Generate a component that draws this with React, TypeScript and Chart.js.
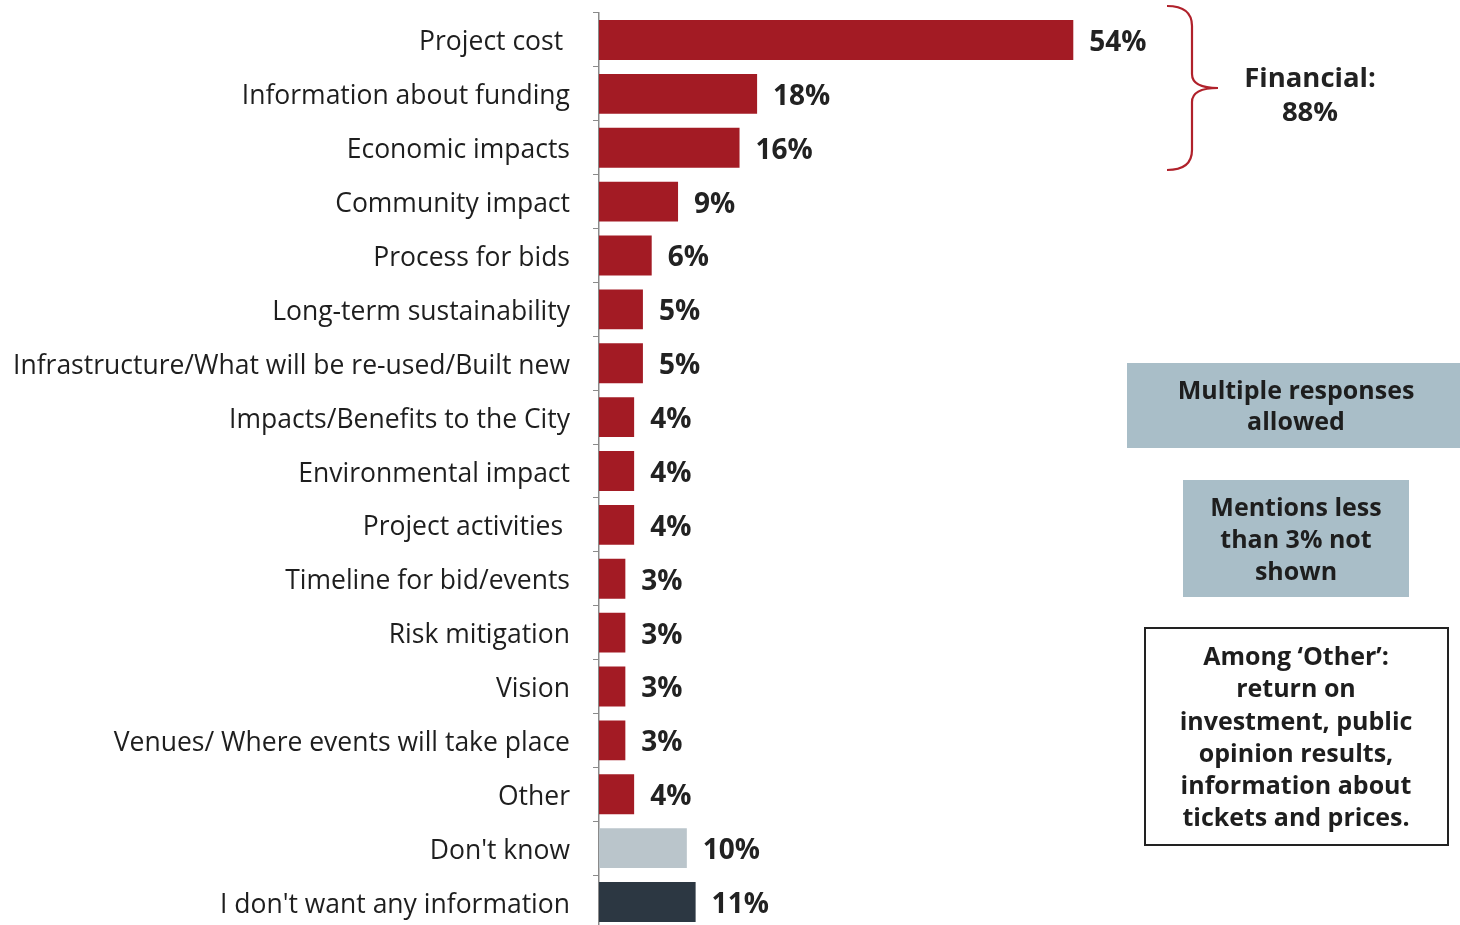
import React, { useEffect, useRef } from "react";
import { Chart, registerables } from "chart.js";

Chart.register(...registerables);

const categories: string[] = [
  "Project cost ",
  "Information about funding",
  "Economic impacts",
  "Community impact",
  "Process for bids",
  "Long-term sustainability",
  "Infrastructure/What will be re-used/Built new",
  "Impacts/Benefits to the City",
  "Environmental impact",
  "Project activities ",
  "Timeline for bid/events",
  "Risk mitigation",
  "Vision",
  "Venues/ Where events will take place",
  "Other",
  "Don't know",
  "I don't want any information",
];

const values: number[] = [54, 18, 16, 9, 6, 5, 5, 4, 4, 4, 3, 3, 3, 3, 4, 10, 11];

const financialTitle = "Financial:";
const financialValue = "88%";
const noteMultiple = ["Multiple responses", "allowed"];
const noteMentions = ["Mentions less", "than 3% not", "shown"];
const noteOther = [
  "Among \u2018Other\u2019:",
  "return on",
  "investment, public",
  "opinion results,",
  "information about",
  "tickets and prices.",
];

const RED = "#A31B24";
const barColors = values.map((_, i) =>
  i === values.length - 1 ? "#2C3742" : i === values.length - 2 ? "#BAC5CB" : RED
);

const FONT = "'Open Sans', 'Segoe UI', sans-serif";

const overlayPlugin = {
  id: "overlay",
  afterDatasetsDraw(chart: any) {
    const ctx = chart.ctx as CanvasRenderingContext2D;
    const meta = chart.getDatasetMeta(0);
    ctx.save();
    ctx.fillStyle = "#222222";
    ctx.font = `bold 28px ${FONT}`;
    ctx.textAlign = "left";
    ctx.textBaseline = "middle";
    meta.data.forEach((bar: any, i: number) => {
      ctx.fillText(`${values[i]}%`, bar.x + 16, bar.y + 3);
    });

    // brace
    ctx.strokeStyle = "#B0212B";
    ctx.lineWidth = 2.2;
    ctx.beginPath();
    const bx = 1192, top = 6, mid = 88, bot = 170;
    ctx.moveTo(1167, top);
    ctx.quadraticCurveTo(bx, top, bx, top + 20);
    ctx.lineTo(bx, mid - 14);
    ctx.quadraticCurveTo(bx, mid, 1218, mid);
    ctx.quadraticCurveTo(bx, mid, bx, mid + 14);
    ctx.lineTo(bx, bot - 20);
    ctx.quadraticCurveTo(bx, bot, 1167, bot);
    ctx.stroke();

    ctx.textAlign = "center";
    ctx.fillStyle = "#222222";
    ctx.font = `bold 27.5px ${FONT}`;
    ctx.fillText(financialTitle, 1310, 79);
    ctx.fillText(financialValue, 1310, 113);

    // box 1
    ctx.fillStyle = "#A9BEC8";
    ctx.fillRect(1127, 363, 333, 85);
    ctx.fillStyle = "#1E1E1E";
    ctx.font = `bold 25px ${FONT}`;
    ctx.fillText(noteMultiple[0], 1296, 392);
    ctx.fillText(noteMultiple[1], 1296, 423);

    // box 2
    ctx.fillStyle = "#A9BEC8";
    ctx.fillRect(1183, 480, 226, 117);
    ctx.fillStyle = "#1E1E1E";
    noteMentions.forEach((t, i) => ctx.fillText(t, 1296, 509 + i * 32));

    // box 3
    ctx.fillStyle = "#FFFFFF";
    ctx.fillRect(1145, 628, 303, 217);
    ctx.strokeStyle = "#222222";
    ctx.lineWidth = 2;
    ctx.strokeRect(1145, 628, 303, 217);
    ctx.fillStyle = "#1E1E1E";
    noteOther.forEach((t, i) => ctx.fillText(t, 1296, 658 + i * 32.2));
    ctx.restore();
  },
};

export default function App() {
  const ref = useRef<HTMLCanvasElement | null>(null);
  useEffect(() => {
    if (!ref.current) return;
    const chart = new Chart(ref.current, {
      type: "bar",
      data: {
        labels: categories,
        datasets: [
          {
            data: values,
            backgroundColor: barColors,
            barPercentage: 0.74,
            categoryPercentage: 1,
          },
        ],
      },
      options: {
        indexAxis: "y",
        responsive: false,
        animation: false,
        layout: { padding: { top: 13, right: 334, bottom: 3, left: 0 } },
        plugins: { legend: { display: false }, tooltip: { enabled: false } },
        scales: {
          x: { display: false, min: 0, max: 60 },
          y: {
            afterFit: (scale: any) => {
              scale.width = 599;
              scale.paddingTop = 0;
              scale.paddingBottom = 0;
            },
            border: { display: true, color: "#8A8A8A", width: 1.5 },
            grid: {
              display: true,
              drawOnChartArea: false,
              drawTicks: true,
              tickLength: 6,
              color: "#8A8A8A",
              offset: true,
            },
            ticks: {
              color: "#1E1E1E",
              padding: 23,
              labelOffset: 3,
              autoSkip: false,
              font: { family: FONT, size: 26.5 },
            },
          },
        },
      },
      plugins: [overlayPlugin],
    });
    return () => chart.destroy();
  }, []);
  return (
    <div
      style={{
        position: "absolute",
        left: 0,
        top: 0,
        width: 1460,
        height: 925,
        overflow: "hidden",
        background: "#FFFFFF",
      }}
    >
      <canvas ref={ref} width={1460} height={932} style={{ display: "block" }} />
    </div>
  );
}
